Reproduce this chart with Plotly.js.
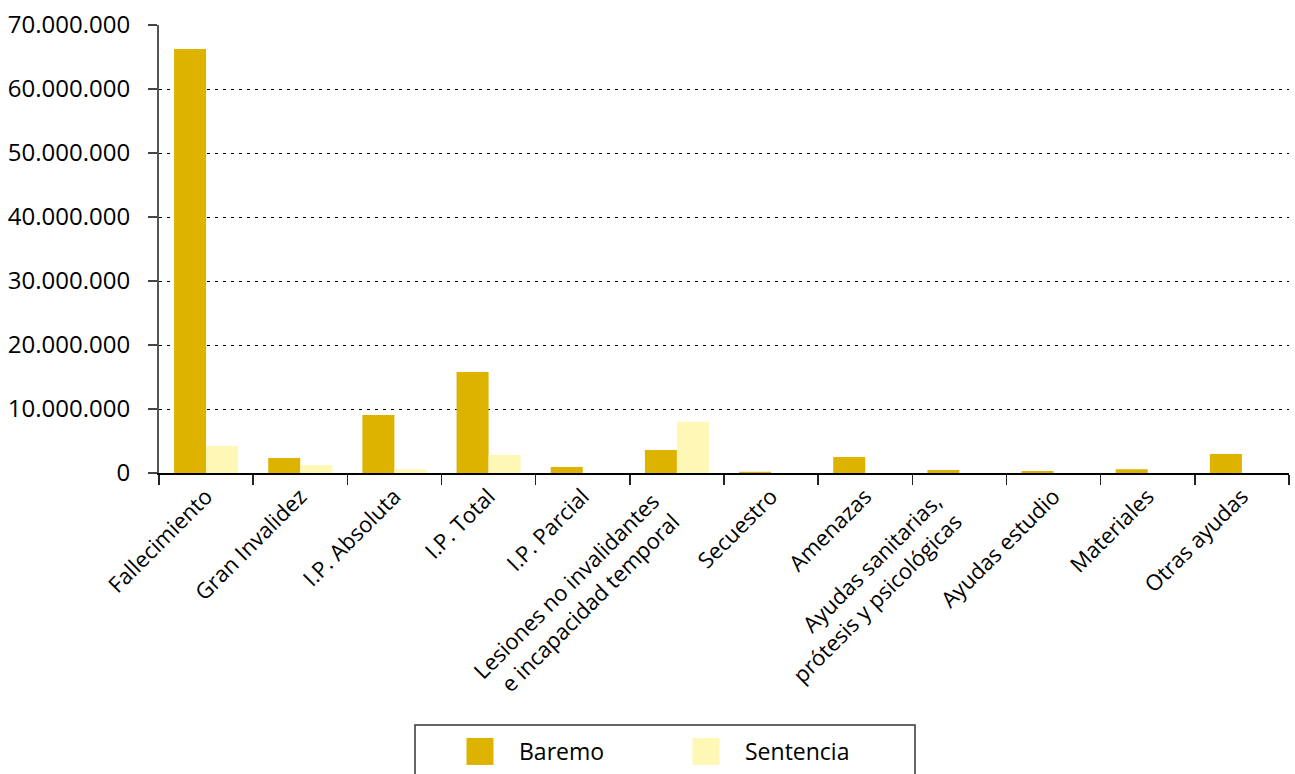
<!DOCTYPE html>
<html>
<head>
<meta charset="utf-8">
<script src="https://cdn.plot.ly/plotly-3.0.1.min.js"></script>
<style>html,body{margin:0;padding:0;background:#fff;}#chart{width:1295px;height:774px;}</style>
</head>
<body>
<div id="chart"></div>
<script>
const categories = [
  "Fallecimiento",
  "Gran Invalidez",
  "I.P. Absoluta",
  "I.P. Total",
  "I.P. Parcial",
  "Lesiones no invalidantes<br>e incapacidad temporal",
  "Secuestro",
  "Amenazas",
  "Ayudas sanitarias,<br>prótesis y psicológicas",
  "Ayudas estudio",
  "Materiales",
  "Otras ayudas"
];
const baremo = [66250000, 2350000, 9050000, 15800000, 950000, 3600000, 200000, 2500000, 450000, 300000, 600000, 2950000];
const sentencia = [4200000, 1250000, 600000, 2800000, 0, 8000000, 0, 0, 0, 0, 0, 0];
const seriesNames = ["Baremo", "Sentencia"];
const colors = ["#DDB300", "#FFF7B5"];
const yTicks = [0, 10000000, 20000000, 30000000, 40000000, 50000000, 60000000, 70000000];

const font = "Open Sans, Noto Sans, sans-serif";

const traces = [
  {type: "bar", name: seriesNames[0], x: categories, y: baremo, marker: {color: colors[0], line: {width: 0}}},
  {type: "bar", name: seriesNames[1], x: categories, y: sentencia, marker: {color: colors[1], line: {width: 0}}}
];

const layout = {
  width: 1295, height: 774,
  margin: {l: 159, r: 6, t: 25, b: 301},
  paper_bgcolor: "#fff", plot_bgcolor: "#fff",
  separators: ",.",
  barmode: "group",
  bargap: 0.32,
  bargroupgap: 0,
  font: {family: font, color: "#000", size: 23},
  showlegend: true,
  legend: {
    orientation: "h",
    xref: "container", yref: "container",
    x: 460/1295, xanchor: "left",
    y: 1 - 730/774, yanchor: "top",
    entrywidth: 181, entrywidthmode: "pixels",
    font: {family: font, size: 23, color: "#000"},
    bgcolor: "rgba(0,0,0,0)", borderwidth: 0
  },
  xaxis: {
    type: "category",
    tickangle: -45,
    tickson: "boundaries",
    ticks: "outside", ticklen: 10, tickwidth: 1.5, tickcolor: "#222",
    showline: true, linecolor: "#000", linewidth: 2,
    showgrid: false,
    tickfont: {family: font, size: 22, color: "#000"},
    automargin: false
  },
  yaxis: {
    range: [0, 70000000],
    tickvals: yTicks,
    tickformat: ",d",
    ticks: "outside", ticklen: 9, tickwidth: 1.5, tickcolor: "#444",
    ticklabelstandoff: 13,
    showline: true, linecolor: "#555", linewidth: 2,
    showgrid: true, gridcolor: "#000", gridwidth: 1, griddash: "3px,5px",
    zeroline: false,
    tickfont: {family: font, size: 24, color: "#000"},
    automargin: false
  },
  shapes: [
    {type: "rect", xref: "paper", yref: "paper",
     x0: (415-159)/1130, x1: (915-159)/1130,
     y0: -(800-473)/448, y1: -(725-473)/448,
     line: {color: "#333", width: 1.5}, fillcolor: "rgba(0,0,0,0)", layer: "above"}
  ]
};

Plotly.newPlot("chart", traces, layout, {displayModeBar: false, staticPlot: true}).then(function () {
  // larger legend swatches, placed like the reference
  document.querySelectorAll("#chart .legend .legendpoints path").forEach(function (p) {
    p.setAttribute("d", "M13.5,13.5H-13.5V-13.5H13.5Z");
  });
  document.querySelectorAll("#chart .legend text.legendtext").forEach(function (t) {
    const x = parseFloat(t.getAttribute("x") || "40");
    t.setAttribute("x", x + 19);
    t.querySelectorAll("tspan").forEach(function (s) {
      if (s.hasAttribute("x")) s.setAttribute("x", parseFloat(s.getAttribute("x")) + 19);
    });
  });
  // nudge the two-line category labels like the reference
  document.querySelectorAll("#chart .xtick text").forEach(function (t) {
    if (t.querySelectorAll("tspan.line").length > 1) {
      const tr = t.getAttribute("transform") || "";
      t.setAttribute("transform", "translate(-24,5) " + tr);
    }
  });
});
</script>
</body>
</html>
